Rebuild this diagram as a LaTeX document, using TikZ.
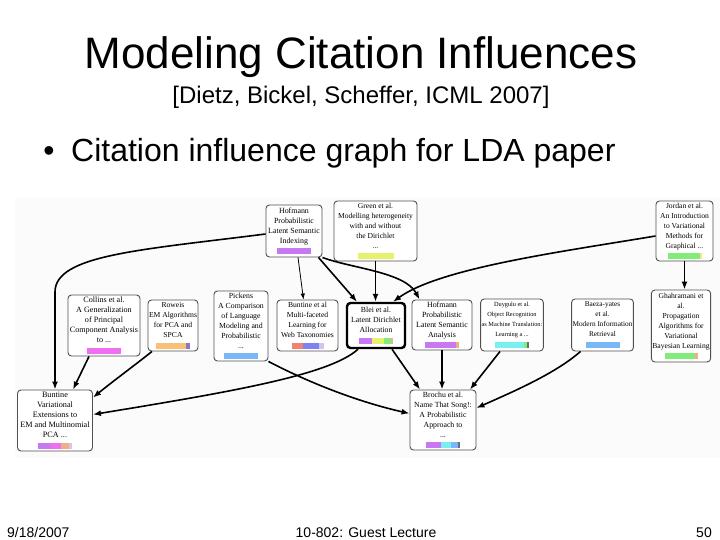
\documentclass[tikz,border=0pt]{standalone}
\usepackage{fontspec}
\setmainfont{Liberation Serif}
\newfontfamily\arialf{Liberation Sans}
\usetikzlibrary{arrows.meta,calc}
\definecolor{pu}{RGB}{200,120,240}
\definecolor{mg}{RGB}{240,110,240}
\definecolor{ye}{RGB}{232,240,112}
\definecolor{gn}{RGB}{130,236,120}
\definecolor{orc}{RGB}{248,192,120}
\definecolor{lb}{RGB}{120,184,248}
\definecolor{sa}{RGB}{240,130,110}
\definecolor{bp}{RGB}{128,128,240}
\definecolor{cy}{RGB}{120,240,240}
\definecolor{tn}{RGB}{236,176,130}
\definecolor{gp}{RGB}{140,120,190}
\definecolor{lv}{RGB}{214,196,232}
\definecolor{dg}{RGB}{110,110,120}
\definecolor{bxline}{RGB}{80,80,80}
\definecolor{graphbg}{RGB}{250,251,250}
\newcommand\bseg[2]{\textcolor{#1}{\rule{#2pt}{6pt}}}
\newcommand\fs[1]{\fontsize{#1}{10}\selectfont}
\begin{document}
\begin{tikzpicture}[x=1pt,y=-1pt,
  paper/.style={draw=bxline, line width=0.9pt, rounded corners=3.5pt, fill=white,
    align=center, inner sep=1pt, font=\fs{7.8}},
  ldabox/.style={paper, draw=black, line width=2.4pt},
  edge/.style={line width=1.6pt, -{Latex[length=8pt,width=6pt]}},
  thinedge/.style={line width=0.8pt, -{Latex[length=6pt,width=4.5pt]}}]
\useasboundingbox (0,0) rectangle (720,540);
\fill[white] (0,0) rectangle (720,540);
\fill[graphbg] (15,197) rectangle (720,458);

% header
\node[font=\arialf\fontsize{44}{44}\selectfont, anchor=base, inner sep=0] (title) at (361,69) {Modeling Citation Influences};
\node[font=\arialf\fontsize{24}{24}\selectfont, anchor=base, inner sep=0] (sub) at (361,104) {[Dietz, Bickel, Scheffer, ICML 2007]};
\node[font=\arialf\fontsize{32}{32}\selectfont, anchor=base, inner sep=0] (dot) at (49,162) {•};
\node[font=\arialf\fontsize{32}{32}\selectfont, anchor=base west, inner sep=0] (bul) at (71,162) {Citation influence graph for LDA paper};

% papers - top row
\node[paper, minimum width=56pt, minimum height=52pt, font=\fs{7.9}] (hpl) at (294,231)
  {Hofmann\\Probabilistic\\Latent Semantic\\Indexing\\[1pt]\bseg{pu}{34}};
\node[paper, minimum width=83pt, minimum height=60pt, font=\fs{7.6}] (green) at (375.5,231)
  {Green et al.\\Modelling heterogeneity\\with and without\\the Dirichlet\\...\\[1pt]\bseg{ye}{36}};
\node[paper, minimum width=57pt, minimum height=60pt, font=\fs{7.6}] (jordan) at (684.5,231)
  {Jordan et al.\\An Introduction\\to Variational\\Methods for\\Graphical ...\\[1pt]\bseg{gn}{32}\bseg{ye}{2}};

% middle row
\node[paper, minimum width=72pt, minimum height=61pt, font=\fs{8.1}] (collins) at (104,325.5)
  {Collins et al.\\A Generalization\\of Principal\\Component Analysis\\to ...\\[1pt]\bseg{mg}{34}};
\node[paper, minimum width=46pt, minimum height=51pt, font=\fs{7.6}] (roweis) at (173,325.5)
  {Roweis\\EM Algorithms\\for PCA and\\SPCA\\[1pt]\bseg{orc}{30}\bseg{gp}{4}};
\node[paper, minimum width=54pt, minimum height=70pt, font=\fs{7.8}] (pickens) at (241,326)
  {Pickens\\A Comparison\\of Language\\Modeling and\\Probabilistic\\...\\[1pt]\bseg{lb}{34}};
\node[paper, minimum width=61pt, minimum height=51pt, font=\fs{7.6}] (bmf) at (307.5,325.5)
  {Buntine et al\\Multi-faceted\\Learning for\\Web Taxonomies\\[1pt]\bseg{sa}{11}\bseg{bp}{16}\bseg{lv}{5}};
\node[ldabox, minimum width=58pt, minimum height=45pt, font=\fs{7.8}] (lda) at (376,325.5)
  {Blei et al.\\Latent Dirichlet\\Allocation\\[1pt]\bseg{pu}{13}\bseg{ye}{12}\bseg{gn}{7}\bseg{tn}{2}};
\node[paper, minimum width=60pt, minimum height=50pt, font=\fs{7.9}] (hpla) at (442,325)
  {Hofmann\\Probabilistic\\Latent Semantic\\Analysis\\[1pt]\bseg{pu}{31}\bseg{tn}{3}};
\node[paper, minimum width=62pt, minimum height=52pt, font=\fs{6.3}] (duy) at (512,325)
  {Duygulu et al.\\Object Recognition\\as Machine Translation:\\Learning a ...\\[1pt]\bseg{cy}{29}\bseg{gn}{3}\bseg{dg}{2}};
\node[paper, minimum width=61pt, minimum height=52pt, font=\fs{7.3}] (baeza) at (602.5,325)
  {Baeza-yates\\et al.\\Modern Information\\Retrieval\\[1pt]\bseg{lb}{34}};
\node[paper, minimum width=58pt, minimum height=72pt, font=\fs{7.6}] (ghah) at (681,326)
  {Ghahramani et\\al.\\Propagation\\Algorithms for\\Variational\\Bayesian Learning\\[1pt]\bseg{gn}{30}\bseg{tn}{3}};

% bottom row
\node[paper, minimum width=75pt, minimum height=61pt, font=\fs{8.2}] (bvar) at (55,420.5)
  {Buntine\\Variational\\Extensions to\\EM and Multinomial\\PCA ...\\[1pt]\bseg{pu}{13}\bseg{mg}{10}\bseg{tn}{8}\bseg{lv}{3}};
\node[paper, minimum width=66pt, minimum height=60pt, font=\fs{7.8}] (brochu) at (443,420)
  {Brochu et al.\\Name That Song!:\\A Probabilistic\\Approach to\\...\\[1pt]\bseg{pu}{15}\bseg{cy}{10}\bseg{lb}{7}\bseg{dg}{2}};

% footer
\node[font=\arialf\fontsize{14}{14}\selectfont, anchor=base west, inner sep=0] (date) at (7,537) {9/18/2007};
\node[font=\arialf\fontsize{14}{14}\selectfont, anchor=base, inner sep=0] (course) at (366,537) {10-802: Guest Lecture};
\node[font=\arialf\fontsize{14}{14}\selectfont, anchor=base east, inner sep=0] (page) at (712,537) {50};

% edges
\draw[edge] ([yshift=-3pt]hpl.west) .. controls (140,250) and (55,255) .. (55,292) -- (bvar.north);
\draw[edge] ([xshift=-15pt]collins.south) -- ([xshift=18pt]bvar.north);
\draw[edge] ([xshift=-21pt]roweis.south) .. controls (135,365) and (112,382) .. ([yshift=-8pt]bvar.north east);
\draw[edge] ([xshift=-18pt]lda.south) .. controls (330,375) and (230,392) .. ([yshift=6pt]bvar.east);
\draw[edge] (pickens.south east) .. controls (300,378) and (350,400) .. ([yshift=6.5pt]brochu.west);
\draw[thinedge] ([xshift=4pt]hpl.south) -- ([xshift=-4pt]bmf.north);
\draw[edge] ([xshift=-4pt]hpl.south east) -- ([xshift=-19pt]lda.north);
\draw[edge] (hpl.south east) .. controls (350,268) and (405,272) .. ([xshift=8pt]hpla.north west);
\draw[edge] (green.south) -- (green.south |- lda.north);
\draw[edge] ([yshift=-5pt]jordan.west) .. controls (560,252) and (440,268) .. ([xshift=17pt]lda.north);
\draw[edge] (jordan.south) -- (jordan.south |- ghah.north);
\draw[edge] ([xshift=16pt]lda.south) -- ([xshift=-23pt]brochu.north);
\draw[edge] (hpla.south) -- (hpla.south |- brochu.north);
\draw[edge] ([xshift=-12pt]duy.south) -- ([xshift=27pt]brochu.north);
\draw[edge] ([xshift=-22pt]baeza.south) .. controls (555,374) and (510,393) .. ([yshift=12pt]brochu.east);
\end{tikzpicture}
\end{document}
